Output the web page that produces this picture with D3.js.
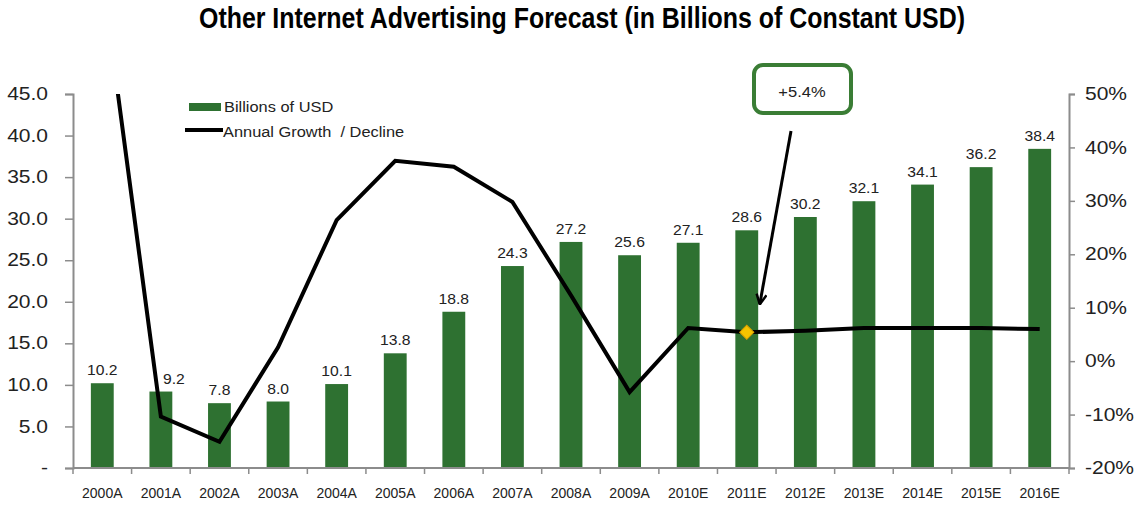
<!DOCTYPE html>
<html>
<head>
<meta charset="utf-8">
<script src="https://cdn.jsdelivr.net/npm/d3@7"></script>
<style>
  html, body { margin: 0; padding: 0; background: #fff; }
  svg { display: block; font-family: "Liberation Sans", Arial, sans-serif; }
</style>
</head>
<body>
<svg id="chart" width="1137" height="505"></svg>
<script>
// Years covered (A = actual, E = estimate)
const categories = ["2000A","2001A","2002A","2003A","2004A","2005A","2006A","2007A","2008A",
                    "2009A","2010E","2011E","2012E","2013E","2014E","2015E","2016E"];
// Spend, billions of constant USD
const spending = [10.2, 9.2, 7.8, 8.0, 10.1, 13.8, 18.8, 24.3, 27.2, 25.6, 27.1, 28.6, 30.2, 32.1, 34.1, 36.2, 38.4];
// Year-over-year growth, percent
const growth = [72, -10.4, -15.1, 2.6, 26.4, 37.5, 36.4, 29.8, 12.3, -5.8, 6.2, 5.4, 5.7, 6.2, 6.2, 6.2, 6.0];
// Axis ticks
const leftTicks = [0, 5, 10, 15, 20, 25, 30, 35, 40, 45];
const rightTicks = [-20, -10, 0, 10, 20, 30, 40, 50];
const highlightYear = "2011E";
const highlightLabel = "+5.4%";

const svg = d3.select("#chart");
const green = "#2e7131";
const axisGrey = "#8c8c8c";
const textCol = "#222";

const plotLeft = 73, plotRight = 1069, plotTop = 94, plotBottom = 468;

const x = d3.scaleBand().domain(categories).range([plotLeft, plotRight]).padding(0);
const yL = d3.scaleLinear().domain([0, 45]).range([plotBottom, plotTop]);
const yR = d3.scaleLinear().domain([-20, 50]).range([plotBottom, plotTop]);

// widen / narrow text glyphs horizontally
function stretch(sel, k) {
  sel.each(function () {
    const w = this.getComputedTextLength();
    this.setAttribute("textLength", w * k);
    this.setAttribute("lengthAdjust", "spacingAndGlyphs");
  });
}

// Title
const title = svg.append("text")
  .attr("x", 582).attr("y", 28)
  .attr("text-anchor", "middle")
  .attr("font-size", 29).attr("font-weight", "bold").attr("fill", "#000")
  .text("Other Internet Advertising Forecast (in Billions of Constant USD)");
title.attr("textLength", 766).attr("lengthAdjust", "spacingAndGlyphs");

// Bars
const barW = x.bandwidth() * 0.39;
svg.append("g").selectAll("rect").data(categories).join("rect")
  .attr("x", d => x(d) + (x.bandwidth() - barW) / 2)
  .attr("width", barW)
  .attr("y", (d, i) => yL(spending[i]))
  .attr("height", (d, i) => yL(0) - yL(spending[i]))
  .attr("fill", green);

// Bar value labels
const nudge = { "2001A": 13 };
const vals = svg.append("g").selectAll("text").data(categories).join("text")
  .attr("x", d => x(d) + x.bandwidth() / 2 + (nudge[d] || 0))
  .attr("y", (d, i) => yL(spending[i]) - 8)
  .attr("text-anchor", "middle")
  .attr("font-size", 14).attr("fill", textCol)
  .text((d, i) => spending[i].toFixed(1));
stretch(vals, 1.12);

// Left axis
const gL = svg.append("g").attr("transform", `translate(${plotLeft},0)`)
  .call(d3.axisLeft(yL).tickValues(leftTicks).tickSize(8).tickPadding(17)
    .tickFormat(d => d === 0 ? "-" : d.toFixed(1)));
// Right axis
const gR = svg.append("g").attr("transform", `translate(${plotRight},0)`)
  .call(d3.axisRight(yR).tickValues(rightTicks).tickSize(6).tickPadding(10)
    .tickFormat(d => d + "%"));
[gL, gR].forEach(g => {
  g.select(".domain").attr("stroke", axisGrey).attr("stroke-width", 2);
  g.selectAll(".tick line").attr("stroke", axisGrey).attr("stroke-width", 1.5);
  g.selectAll(".tick text").attr("font-size", 17.5).attr("fill", textCol)
    .attr("font-family", "Liberation Sans, Arial, sans-serif");
  stretch(g.selectAll(".tick text"), 1.2);
});

// Bottom axis: baseline, ticks between categories, year labels
const gX = svg.append("g");
gX.append("line").attr("x1", plotLeft).attr("x2", plotRight).attr("y1", plotBottom).attr("y2", plotBottom)
  .attr("stroke", axisGrey).attr("stroke-width", 2);
gX.selectAll("line.tk").data(categories.concat([null])).join("line").attr("class", "tk")
  .attr("x1", d => d === null ? plotRight : x(d)).attr("x2", d => d === null ? plotRight : x(d))
  .attr("y1", plotBottom).attr("y2", plotBottom + 6)
  .attr("stroke", axisGrey).attr("stroke-width", 1.5);
gX.selectAll("text").data(categories).join("text")
  .attr("x", d => x(d) + x.bandwidth() / 2)
  .attr("y", 498)
  .attr("text-anchor", "middle")
  .attr("font-size", 14).attr("fill", textCol)
  .text(d => d);

// Growth line, clipped to the plot area
svg.append("clipPath").attr("id", "plotClip")
  .append("rect").attr("x", plotLeft).attr("y", plotTop)
  .attr("width", plotRight - plotLeft).attr("height", plotBottom - plotTop);
const line = d3.line()
  .x((d, i) => x(categories[i]) + x.bandwidth() / 2)
  .y(d => yR(d));
svg.append("path").datum(growth)
  .attr("clip-path", "url(#plotClip)")
  .attr("d", line)
  .attr("fill", "none").attr("stroke", "#000").attr("stroke-width", 4)
  .attr("stroke-linejoin", "miter");

// Highlight marker
const hi = categories.indexOf(highlightYear);
const hx = x(highlightYear) + x.bandwidth() / 2, hy = yR(growth[hi]);
svg.append("path")
  .attr("d", d3.symbol(d3.symbolSquare, 100)())
  .attr("transform", `translate(${hx},${hy}) rotate(45)`)
  .attr("fill", "#f4c400").attr("stroke", "#d8a000").attr("stroke-width", 1);

// Callout box + arrow
svg.append("rect").attr("x", 754).attr("y", 65).attr("width", 97).attr("height", 48)
  .attr("rx", 9).attr("fill", "#fff").attr("stroke", "#3a7d35").attr("stroke-width", 4);
svg.append("text").attr("x", 802).attr("y", 97).attr("text-anchor", "middle")
  .attr("font-size", 15).attr("fill", textCol).text(highlightLabel)
  .call(s => stretch(s, 1.1));

svg.append("defs").append("marker").attr("id", "arrowHead")
  .attr("viewBox", "0 0 12 12").attr("refX", 11).attr("refY", 6)
  .attr("markerWidth", 12).attr("markerHeight", 12).attr("markerUnits", "userSpaceOnUse")
  .attr("orient", "auto")
  .append("path").attr("d", "M1,1 L11,6 L1,11").attr("fill", "none")
  .attr("stroke", "#000").attr("stroke-width", 2.5);
svg.append("line").attr("x1", 791).attr("y1", 131).attr("x2", hx + 13).attr("y2", hy - 28)
  .attr("stroke", "#000").attr("stroke-width", 3).attr("marker-end", "url(#arrowHead)");

// Legend
const lg = svg.append("g");
lg.append("rect").attr("x", 189).attr("y", 103).attr("width", 32).attr("height", 8).attr("fill", green);
lg.append("text").attr("x", 224).attr("y", 112).attr("font-size", 14).attr("fill", textCol)
  .text("Billions of USD").call(s => stretch(s, 1.17));
lg.append("line").attr("x1", 185).attr("x2", 223).attr("y1", 130).attr("y2", 130)
  .attr("stroke", "#000").attr("stroke-width", 4);
lg.append("text").attr("x", 223).attr("y", 137).attr("font-size", 14).attr("fill", textCol)
  .attr("xml:space", "preserve")
  .text("Annual Growth  / Decline").call(s => stretch(s, 1.17));
</script>
</body>
</html>
